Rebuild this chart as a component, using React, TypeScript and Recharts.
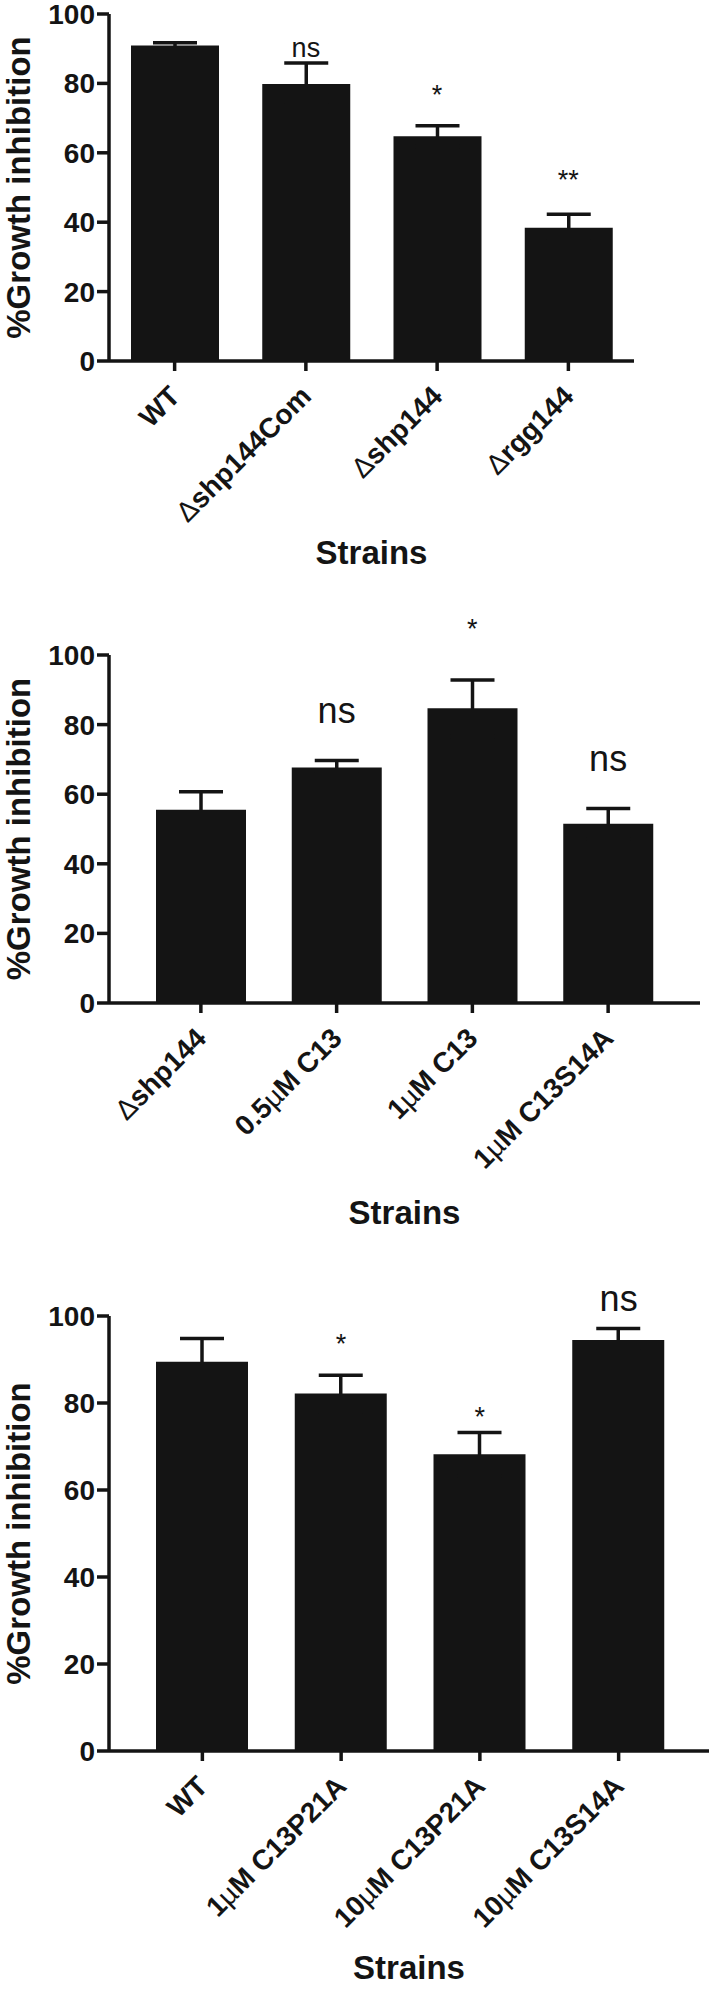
import React from 'react';
import { BarChart, Bar, XAxis, YAxis, ErrorBar, ReferenceDot } from 'recharts';

const FONT = '"Liberation Sans", Arial, Helvetica, sans-serif';
const INK = '#141414';

// Panel 1
const p1Categories = ['WT', 'Δshp144Com', 'Δshp144', 'Δrgg144'];
const p1Means = [90.9, 79.8, 64.8, 38.4];
const p1Errors = [0.8, 6.1, 3.0, 3.9];
const p1Marks = ['', 'ns', '*', '**'];
const p1MarkY = [null, 90.5, 76.9, 52.4];

// Panel 2
const p2Categories = ['Δshp144', '0.5µM C13', '1µM C13', '1µM C13S14A'];
const p2Means = [55.5, 67.7, 84.7, 51.5];
const p2Errors = [5.2, 2.0, 8.1, 4.4];
const p2Marks = ['', 'ns', '*', 'ns'];
const p2MarkY = [null, 84.2, 107.5, 70.4];

// Panel 3
const p3Categories = ['WT', '1µM C13P21A', '10µM C13P21A', '10µM C13S14A'];
const p3Means = [89.5, 82.2, 68.2, 94.5];
const p3Errors = [5.3, 4.2, 5.0, 2.6];
const p3Marks = ['', '*', '*', 'ns'];
const p3MarkY = [null, 93.8, 77.0, 104.1];

const yTicks = [0, 20, 40, 60, 80, 100];
const yLabel = '%Growth inhibition';
const xLabel = 'Strains';

function buildRows(cats: string[], means: number[], errs: number[]) {
  return cats.map((name, i) => ({ name, value: means[i], err: errs[i] }));
}

function splitRuns(s: string) {
  const runs: { t: string; sym: boolean }[] = [];
  for (const ch of s) {
    const sym = ch === 'Δ' || ch === 'µ';
    const last = runs[runs.length - 1];
    if (last && last.sym === sym) last.t += ch;
    else runs.push({ t: ch, sym });
  }
  return runs;
}

function makeTick(dx: number, dy: number, fontSize: number) {
  return (props: any) => {
    const { x, y, payload } = props;
    const runs = splitRuns(String(payload.value));
    return (
      <g transform={`translate(${x + dx},${y + dy}) rotate(-45)`}>
        <text textAnchor="end" fontSize={fontSize} fontFamily={FONT} fill={INK}>
          {runs.map((r, i) => (
            <tspan key={i} fontWeight={r.sym ? 'normal' : 'bold'}>
              {r.t}
            </tspan>
          ))}
        </text>
      </g>
    );
  };
}

function YLab(props: any) {
  const vb = props.viewBox || {};
  const cx = (vb.x || 0) + 18;
  const cy = (vb.y || 0) + (vb.height || 0) / 2;
  return (
    <text
      x={cx}
      y={cy}
      transform={`rotate(-90 ${cx} ${cy})`}
      textAnchor="middle"
      dominantBaseline="central"
      fontSize={33}
      fontWeight="bold"
      fontFamily={FONT}
      fill={INK}
    >
      {yLabel}
    </text>
  );
}

type PanelProps = {
  top: number;
  height: number;
  margin: { top: number; right: number; left: number; bottom: number };
  xHeight: number;
  padding: { left: number; right: number };
  barSize: number;
  cats: string[];
  means: number[];
  errs: number[];
  marks: string[];
  markY: (number | null)[];
  nsSize: number;
  tickDx: number;
  tickDy: number;
};

function Panel(p: PanelProps) {
  const data = buildRows(p.cats, p.means, p.errs);
  return (
    <div style={{ position: 'absolute', left: 0, top: p.top, width: 709, height: p.height }}>
      <BarChart width={709} height={p.height} data={data} margin={p.margin}>
        <XAxis
          dataKey="name"
          interval={0}
          height={p.xHeight}
          padding={p.padding}
          tickSize={10}
          tickMargin={2}
          axisLine={{ stroke: INK, strokeWidth: 3.5 }}
          tickLine={{ stroke: INK, strokeWidth: 3.5 }}
          tick={makeTick(p.tickDx, p.tickDy, 28)}
          label={{
            value: xLabel,
            position: 'insideBottom',
            offset: 7,
            fontSize: 33,
            fontWeight: 'bold',
            fontFamily: FONT,
            fill: INK,
          }}
        />
        <YAxis
          width={109}
          domain={[0, 100]}
          ticks={yTicks}
          interval={0}
          tickSize={12}
          tickMargin={2}
          axisLine={{ stroke: INK, strokeWidth: 3.5 }}
          tickLine={{ stroke: INK, strokeWidth: 3.5 }}
          tick={{ fontSize: 28, fontWeight: 'bold', fontFamily: FONT, fill: INK }}
          label={<YLab />}
        />
        <Bar dataKey="value" fill={INK} barSize={p.barSize} isAnimationActive={false}>
          <ErrorBar
            dataKey="err"
            width={22}
            stroke={INK}
            strokeWidth={3.5}
            direction="y"
            isAnimationActive={false}
          />
        </Bar>
        {p.cats.map((c, i) =>
          p.marks[i] && p.markY[i] != null ? (
            <ReferenceDot
              key={c}
              x={c}
              y={p.markY[i] as number}
              r={0}
              fill="none"
              stroke="none"
              ifOverflow="visible"
              label={{
                value: p.marks[i],
                position: 'center',
                fontSize: p.marks[i] === 'ns' ? p.nsSize : 27,
                fontFamily: FONT,
                fill: INK,
              }}
            />
          ) : null
        )}
      </BarChart>
    </div>
  );
}

export default function App() {
  return (
    <div style={{ position: 'absolute', left: 0, top: 0, width: 709, height: 1990, background: '#fff', fontFamily: FONT }}>
      <Panel
        top={0}
        height={600}
        margin={{ top: 14, right: 75, left: 0, bottom: 29 }}
        xHeight={210}
        padding={{ left: 0, right: 0 }}
        barSize={88}
        cats={p1Categories}
        means={p1Means}
        errs={p1Errors}
        marks={p1Marks}
        markY={p1MarkY}
        nsSize={27}
        tickDx={7}
        tickDy={25}
      />
      <Panel
        top={600}
        height={660}
        margin={{ top: 55, right: 9, left: 0, bottom: 29 }}
        xHeight={228}
        padding={{ left: 24, right: 24 }}
        barSize={90}
        cats={p2Categories}
        means={p2Means}
        errs={p2Errors}
        marks={p2Marks}
        markY={p2MarkY}
        nsSize={36}
        tickDx={7}
        tickDy={25}
      />
      <Panel
        top={1260}
        height={730}
        margin={{ top: 56, right: 0, left: 0, bottom: 4 }}
        xHeight={235}
        padding={{ left: 24, right: 21 }}
        barSize={92}
        cats={p3Categories}
        means={p3Means}
        errs={p3Errors}
        marks={p3Marks}
        markY={p3MarkY}
        nsSize={36}
        tickDx={7}
        tickDy={25}
      />
    </div>
  );
}
